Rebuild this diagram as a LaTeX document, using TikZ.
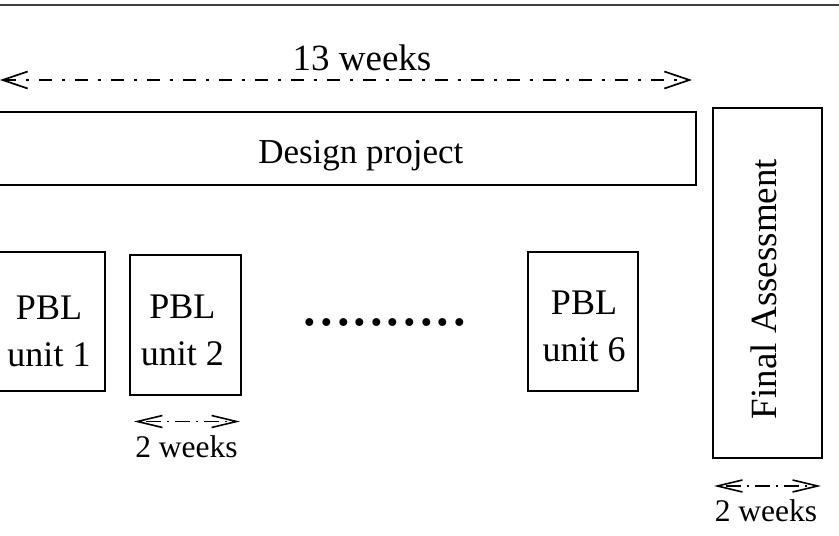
\documentclass[tikz,border=0pt]{standalone}
\usepackage{fontspec}
\setmainfont{Liberation Serif}
\usetikzlibrary{arrows.meta}
\tikzset{
  box/.style={draw=black, line width=1.8pt, inner sep=0pt, fill=none},
  txt/.style={inner sep=0pt, anchor=base},
  bigtxt/.style={txt, font=\fontsize{37}{44}\selectfont},
  unittxt/.style={txt, font=\fontsize{36}{47}\selectfont},
  smalltxt/.style={txt, font=\fontsize{31.5}{38}\selectfont},
  bigspan/.style={line width=1.7pt, dash pattern=on 13pt off 10pt on 3pt off 10pt,
    {Straight Barb[length=25pt,width=17pt,line width=1.7pt]}-{Straight Barb[length=25pt,width=17pt,line width=1.7pt]}},
  smallspan/.style={line width=1.6pt, dash pattern=on 2pt off 6pt on 15pt off 6pt,
    {Straight Barb[length=25pt,width=12pt,line width=1.6pt]}-{Straight Barb[length=25pt,width=12pt,line width=1.6pt]}},
}
\begin{document}
\begin{tikzpicture}[x=1pt,y=-1pt]
\useasboundingbox (0,0) rectangle (839,536);
% top rule
\coordinate (tl) at (0,5);
\coordinate (tr) at (839,5);
\draw[line width=2pt, black!75] (tl) -- (tr);
% 13 weeks
\coordinate (s13l) at (0,80);
\coordinate (s13r) at (692,80);
\draw[bigspan] (s13l) -- (s13r);
\node[bigtxt] (t13) at (362,70) {13 weeks};
% design project
\node[box, minimum width=716pt, minimum height=72.7pt] (design) at (338,148.7) {};
\node[txt, font=\fontsize{35}{42}\selectfont] (designt) at (360.8,163.3) {Design project};
% final assessment
\node[box, minimum width=109pt, minimum height=350pt] (final) at (767.5,283) {};
\node[bigtxt, rotate=90] (finalt) at (776.7,289) {Final Assessment};
% PBL units
\node[box, minimum width=110.7pt, minimum height=139pt] (u1) at (49.3,321.2) {};
\node[unittxt] (u1t) at (49,366.7) {\begin{tabular}[b]{@{}c@{}}PBL\\unit 1\end{tabular}};
\node[box, minimum width=110.7pt, minimum height=140pt] (u2) at (185.3,325) {};
\node[unittxt] (u2t) at (182.3,365) {\begin{tabular}[b]{@{}c@{}}PBL\\unit 2\end{tabular}};
\node[box, minimum width=110.3pt, minimum height=139pt] (u6) at (582.8,321.2) {};
\node[unittxt] (u6t) at (584,361.5) {\begin{tabular}[b]{@{}c@{}}PBL\\unit 6\end{tabular}};
% dots
\node[inner sep=0pt, anchor=base west, font=\fontsize{66.4}{70}\selectfont] (dots) at (301.7,325.5) {..........};
% 2 weeks spans
\coordinate (s2l) at (134,421.5);
\coordinate (s2r) at (240,421.5);
\draw[smallspan] (s2l) -- (s2r);
\node[smalltxt] (t2) at (186.5,457.5) {2 weeks};
\coordinate (sfl) at (714,486);
\coordinate (sfr) at (821,486);
\draw[smallspan] (sfl) -- (sfr);
\node[smalltxt] (tf) at (766,521.5) {2 weeks};
\end{tikzpicture}
\end{document}
